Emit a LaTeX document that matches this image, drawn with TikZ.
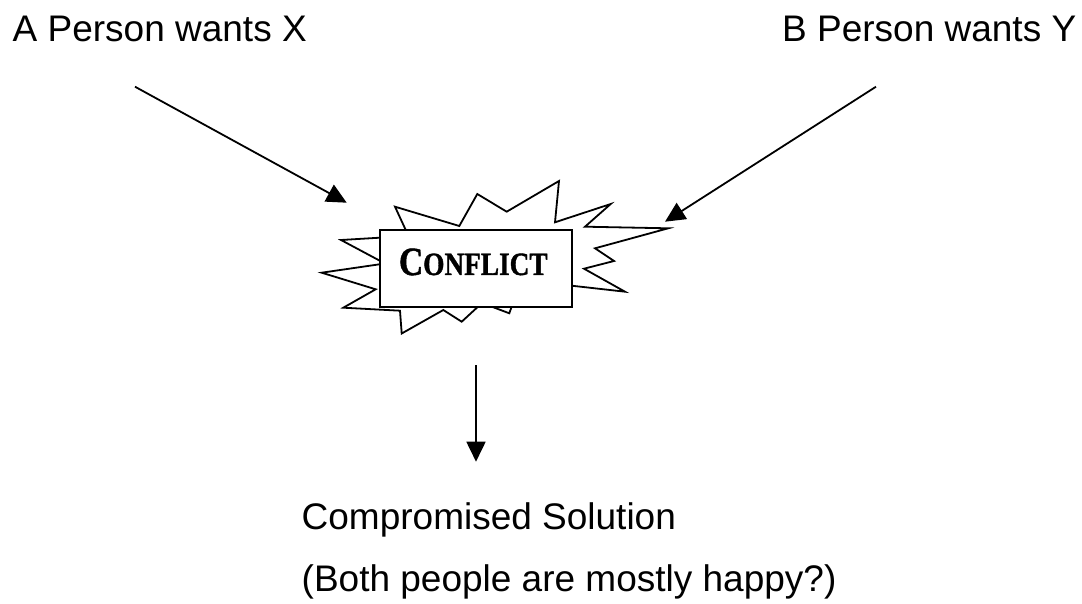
\documentclass[tikz,border=0pt]{standalone}
\usepackage{fontspec}
\usepackage{graphicx}
\setmainfont{Liberation Sans}
\newfontfamily\conflictfont[BoldFeatures={FakeBold=1.2}]{Liberation Serif}
\usetikzlibrary{arrows.meta}
\tikzset{
  label text/.style={font=\fontsize{37}{41}\selectfont, inner sep=0pt, anchor=base west},
  conn/.style={line width=1.8pt, -{Triangle[length=20pt,width=19pt]}},
  burst/.style={line width=1.8pt, line join=miter, fill=white},
  boxstyle/.style={draw, line width=2.3pt, fill=white, inner sep=0pt, minimum width=192.3pt, minimum height=76.7pt}
}
\begin{document}
\begin{tikzpicture}[x=1pt,y=-1pt]
\useasboundingbox (0,0) rectangle (1082,604);
% labels
\node[label text] (A) at (12.5,41.7) {A Person wants X};
\node[label text] (B) at (782,41.7) {B Person wants Y};
\node[label text] (S1) at (301.5,529) {Compromised Solution};
\node[label text] (S2) at (301.5,591.5) {(Both people are mostly happy?)};
% starburst
\draw[burst] (395,206.7) -- (459.3,226) -- (477.3,194) -- (506.7,211.7) -- (559,181)
  -- (555,222.3) -- (610.7,204) -- (585,226.7) -- (668.3,228.3) -- (595,248.3)
  -- (614,261) -- (584,268.7) -- (625,291.7) -- (521,280) -- (509.3,313.3)
  -- (482,303) -- (461.7,321.7) -- (443.3,310) -- (401.7,333.5) -- (400,310.7)
  -- (343.3,307.7) -- (375.7,289.3) -- (321.7,272.7) -- (385,263.5) -- (341,240)
  -- (408.5,236) -- cycle;
\node[boxstyle] (box) at (476.15,268.35) {};
\node[inner sep=0pt, anchor=base] (conflict) at (473.3,275)
  {\scalebox{0.84}[1]{\conflictfont\bfseries\fontsize{40}{44}\selectfont C\fontsize{32.5}{36}\selectfont ONFLICT}};
% connectors
\coordinate (a0) at (135,86.7);
\coordinate (a1) at (346.7,202.7);
\coordinate (b0) at (876,86.7);
\coordinate (b1) at (665,221.7);
\coordinate (c0) at (476,365);
\coordinate (c1) at (476,461.7);
\draw[conn] (a0) -- (a1);
\draw[conn] (b0) -- (b1);
\draw[conn] (c0) -- (c1);
\end{tikzpicture}
\end{document}
